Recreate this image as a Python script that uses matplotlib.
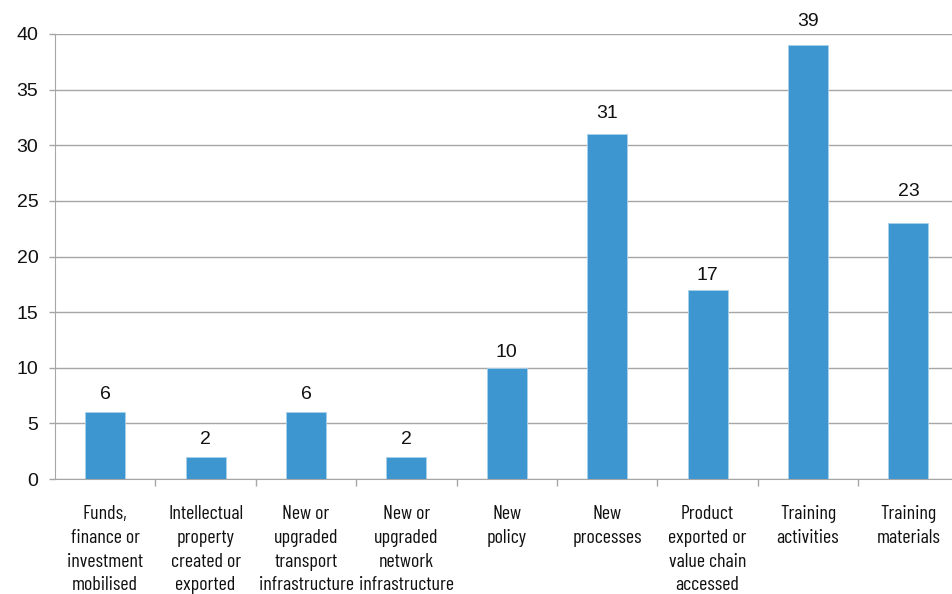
import matplotlib.pyplot as plt
import numpy as np
from matplotlib import font_manager
from matplotlib.textpath import TextPath

categories = [
    "Funds,\nfinance or\ninvestment\nmobilised",
    "Intellectual\nproperty\ncreated or\nexported",
    "New or\nupgraded\ntransport\ninfrastructure",
    "New or\nupgraded\nnetwork\ninfrastructure",
    "New\npolicy",
    "New\nprocesses",
    "Product\nexported or\nvalue chain\naccessed",
    "Training\nactivities",
    "Training\nmaterials",
]
counts = [6, 2, 6, 2, 10, 31, 17, 39, 23]

# gap (px) between each value label and the top of its bar
label_gap_px = [13, 13, 13, 13, 11, 16, 10, 19, 27]

DPI = 100


def glyph_box(prop, s):
    ext = TextPath((0, 0), s, size=100, prop=prop).get_extents()
    return ext.width, ext.height


def narrow_font(cap_px, target_ratio=6.1):
    # among the condensed/narrow regular faces, take the one whose
    # width/cap-height ratio is closest to a condensed grotesk
    best = None
    seen = set()
    for f in font_manager.fontManager.ttflist:
        base = f.fname.rsplit("/", 1)[-1]
        lb = base.lower()
        if not ("condensed" in lb or "narrow" in lb) or f.fname in seen:
            continue
        if any(k in lb for k in ("bold", "italic", "light", "thin", "black",
                                 "medium", "semi", "extrab", "mono", "serif")):
            continue
        seen.add(f.fname)
        if len(seen) > 12:
            break
        prop = font_manager.FontProperties(fname=f.fname)
        try:
            w, _ = glyph_box(prop, "infrastructure")
            _, h = glyph_box(prop, "H")
        except Exception:
            continue
        if h <= 0:
            continue
        score = abs(w / h - target_ratio)
        if best is None or score < best[0]:
            best = (score, f.fname, h)
    if best is None:
        size_pt = 11.0
        return font_manager.FontProperties(family="Liberation Sans", size=size_pt), size_pt
    _, fname, h = best
    size_pt = cap_px / (h / 100) * 72 / DPI
    return font_manager.FontProperties(fname=fname, size=size_pt), size_pt


plt.rcParams["font.family"] = ["Liberation Sans", "DejaVu Sans"]

fig = plt.figure(figsize=(9.52, 5.94), dpi=DPI)
ax = fig.add_axes([55 / 952, 1 - 479 / 594, 903.6 / 952, 445 / 594])

x = np.arange(len(categories))
bars = ax.bar(x, counts, width=0.4, color="#3d96cf", edgecolor="#a8d0ea",
              linewidth=0.6, zorder=3)

for b, v, gap in zip(bars, counts, label_gap_px):
    ax.annotate(str(v), (b.get_x() + b.get_width() / 2, v),
                xytext=(0, gap * 72 / DPI), textcoords="offset points",
                ha="center", va="baseline", fontsize=14, color="#111111")

ax.set_xlim(-0.5, len(categories) - 0.5)
ax.set_ylim(0, 40)
ax.set_yticks(np.arange(0, 41, 5))
ax.yaxis.grid(True, color="#a6a6a6", linewidth=1.0, zorder=0)
ax.set_axisbelow(True)

cat_font, cat_size = narrow_font(14)
em_px = cat_size * DPI / 72
ax.set_xticks(x)
ax.set_xticklabels(categories, fontproperties=cat_font,
                   linespacing=25 / (0.89 * em_px), color="#111111")
ax.tick_params(axis="x", which="major", length=0, pad=19)
ax.set_xticks(np.arange(0.5, len(categories) - 0.5, 1), minor=True)
ax.tick_params(axis="x", which="minor", length=5, color="#a6a6a6", width=1)
ax.tick_params(axis="y", length=4, color="#a6a6a6", width=1, labelsize=14,
               pad=8, labelcolor="#111111")

for side in ["top", "right"]:
    ax.spines[side].set_visible(False)
for side in ["left", "bottom"]:
    ax.spines[side].set_color("#a6a6a6")

fig.savefig("out.png", dpi=DPI)
